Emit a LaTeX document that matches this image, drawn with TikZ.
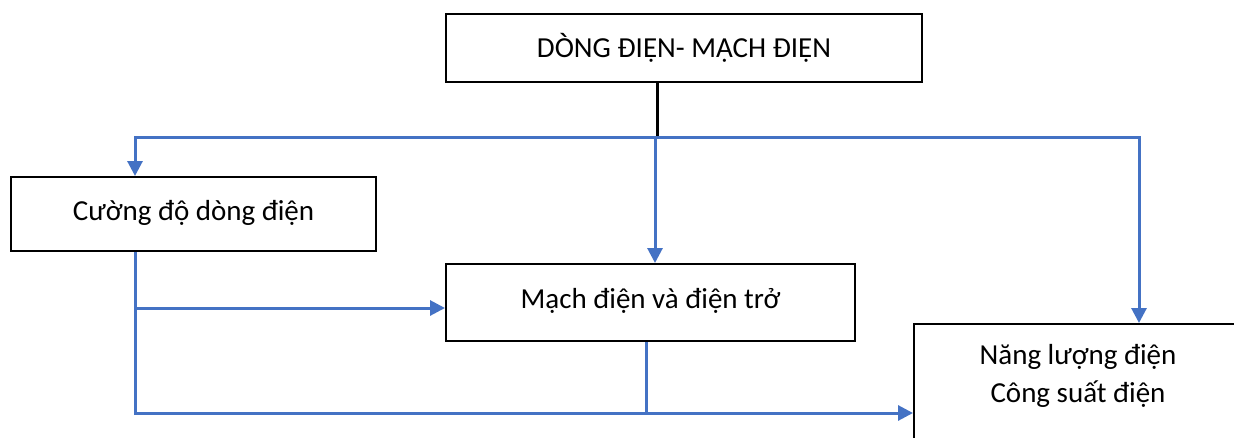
\documentclass[tikz,border=0pt]{standalone}
\usepackage{fontspec}
\setmainfont{Carlito}
\usetikzlibrary{arrows.meta}
\definecolor{wordblue}{HTML}{4472C4}
\tikzset{
  box/.style={draw=black, line width=2pt, fill=white, rectangle, inner sep=0pt, align=center, font=\fontsize{29}{38}\selectfont},
  conn/.style={draw=wordblue, line width=3pt},
  arr/.style={conn, -{Triangle[length=15pt,width=15pt]}}
}
\begin{document}
\begin{tikzpicture}[x=1pt,y=-1pt]
\useasboundingbox (0,0) rectangle (1234,437);
\clip (0,0) rectangle (1234,437);
\node[box, minimum width=476pt, minimum height=68pt] (top) at (684,48) {DÒNG ĐIỆN- MẠCH ĐIỆN};
\node[box, minimum width=365pt, minimum height=74pt] (left) at (193.5,214) {\raisebox{7pt}{Cường độ dòng điện}};
\node[box, minimum width=409pt, minimum height=77pt] (mid) at (650.5,302.5) {\raisebox{9pt}{Mạch điện và điện trở}};
\node[box, minimum width=328pt, minimum height=121pt] (right) at (1078,384.5) {Năng lượng điện\\Công suất điện\\[-16pt]\mbox{}};
\coordinate (j) at (657,137);
\coordinate (bl) at (135,137);
\coordinate (bm) at (655,137);
\coordinate (br) at (1139,137);
\coordinate (lm) at (135,308);
\coordinate (lb) at (135,413);
\coordinate (mb) at (646,413);
\draw[black, line width=3pt] (top.south -| j) -- (j);
\draw[arr] (bm) -- (bl) -- (bl |- left.north);
\draw[arr] (bm) -- (br) -- (br |- right.north);
\draw[arr] (bm) -- (bm |- mid.north);
\draw[arr] (bl |- left.south) -- (lb) -- (lb -| right.west);
\draw[arr] (lm) -- (lm -| mid.west);
\draw[conn] (mb |- mid.south) -- (mb);
\end{tikzpicture}
\end{document}
